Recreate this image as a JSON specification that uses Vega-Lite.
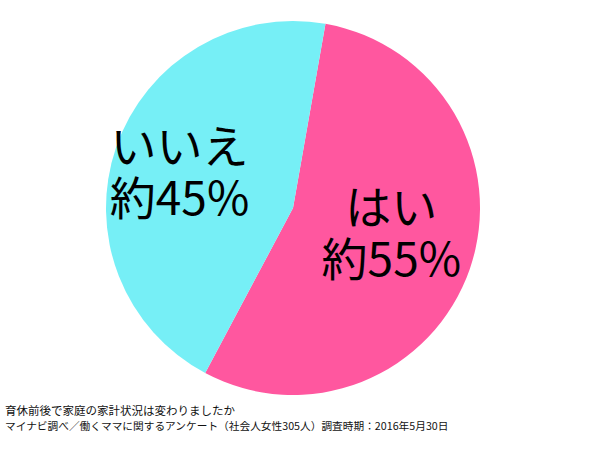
{
  "$schema": "https://vega.github.io/schema/vega-lite/v6.json",
  "autosize": "none",
  "width": 586,
  "height": 416,
  "padding": {"left": 0, "top": 0, "right": 14, "bottom": 34},
  "background": "white",
  "config": {"view": {"stroke": null}},
  "title": {
    "text": "育休前後で家庭の家計状況は変わりましたか",
    "subtitle": "マイナビ調べ／働くママに関するアンケート（社会人女性305人）調査時期：2016年5月30日",
    "orient": "bottom",
    "anchor": "start",
    "frame": "group",
    "dx": 5,
    "offset": -10,
    "font": "Noto Sans CJK JP",
    "fontSize": 11.5,
    "fontWeight": "normal",
    "color": "#111",
    "subtitleFont": "Noto Sans CJK JP",
    "subtitleFontSize": 10.7,
    "subtitleColor": "#111",
    "subtitlePadding": 4,
    "lineHeight": 17
  },
  "data": {"values": [
    {"answer": "はい", "label": ["はい", "約55%"], "value": 55},
    {"answer": "いいえ", "label": ["いいえ", "約45%"], "value": 45}
  ]},
  "encoding": {
    "theta": {"field": "value", "type": "quantitative", "stack": true, "scale": {"range": [0.1745, 6.4577]}},
    "order": {"field": "value", "type": "quantitative", "sort": "descending"}
  },
  "layer": [
    {
      "mark": {"type": "arc", "outerRadius": 187},
      "encoding": {
        "color": {"field": "answer", "type": "nominal", "legend": null,
          "scale": {"domain": ["はい", "いいえ"], "range": ["#FF579F", "#76EFF6"]}}
      }
    },
    {
      "mark": {"type": "text", "radius": {"expr": "datum.answer === 'はい' ? 104 : 120"}, "dy": {"expr": "datum.answer === 'はい' ? -32 : -20"}, "font": "Noto Sans CJK JP", "fontSize": 46, "lineHeight": 52, "color": "#000", "baseline": "middle", "align": "center"},
      "encoding": {"text": {"field": "label"}}
    }
  ]
}
